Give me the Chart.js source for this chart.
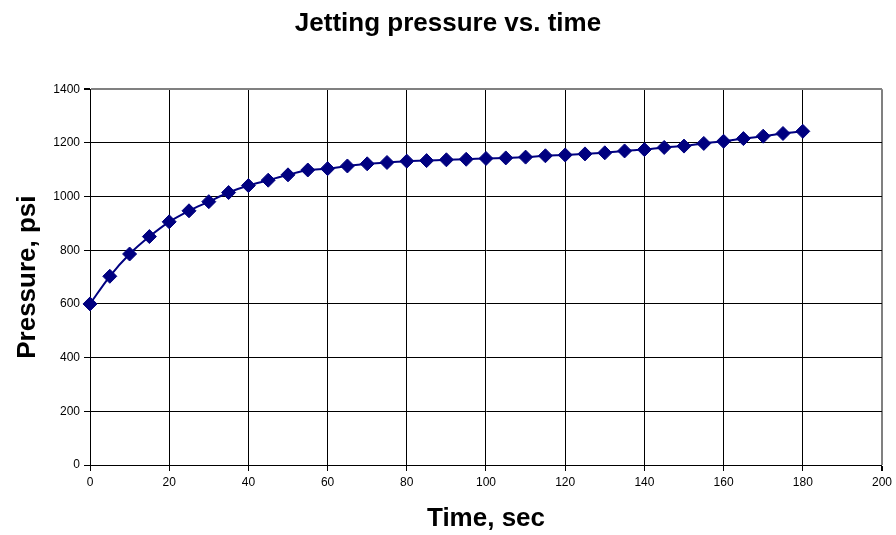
<!DOCTYPE html>
<html>
<head>
<meta charset="utf-8">
<script src="https://cdn.jsdelivr.net/npm/chart.js@4/dist/chart.umd.min.js"></script>
<style>
  html, body { margin: 0; padding: 0; background: #fff; }
  #wrap { width: 896px; height: 535px; }
</style>
</head>
<body>
<div id="wrap"><canvas id="chart" width="896" height="535"></canvas></div>
<script>
// time, sec
var times = [0, 5, 10, 15, 20, 25, 30, 35, 40, 45, 50, 55, 60, 65, 70, 75, 80, 85, 90,
  95, 100, 105, 110, 115, 120, 125, 130, 135, 140, 145, 150, 155, 160, 165, 170, 175, 180];
// pressure, psi
var pressures = [600, 703, 786, 851, 906, 947, 981, 1015, 1041, 1061, 1081, 1099, 1104, 1114, 1122, 1127, 1132, 1134, 1137,
  1139, 1142, 1144, 1147, 1152, 1155, 1159, 1163, 1170, 1175, 1183, 1188, 1198, 1206, 1216, 1225, 1235, 1243];

var xTicks = [0, 20, 40, 60, 80, 100, 120, 140, 160, 180, 200];
var yTicks = [0, 200, 400, 600, 800, 1000, 1200, 1400];

var NAVY = '#000080';
var FONT = "'Liberation Sans', Arial, sans-serif";

var points = times.map(function(t, i){ return { x: t, y: pressures[i] }; });

var ctx = document.getElementById('chart').getContext('2d');

new Chart(ctx, {
  type: 'line',
  data: {
    datasets: [{
      label: 'Pressure',
      data: points,
      borderColor: NAVY,
      backgroundColor: NAVY,
      borderWidth: 2,
      pointStyle: 'rectRot',
      pointRadius: 7,
      pointBorderWidth: 1,
      pointBorderColor: NAVY,
      pointBackgroundColor: NAVY,
      cubicInterpolationMode: 'monotone',
      clip: false,
      fill: false
    }]
  },
  options: {
    responsive: false,
    animation: false,
    layout: {
      padding: 0
    },
    plugins: {
      legend: { display: false },
      tooltip: { enabled: false },
      title: {
        display: true,
        text: 'Jetting pressure vs. time',
        color: '#000',
        font: { family: FONT, size: 26, weight: 'bold' },
        padding: { top: 8, bottom: 50 }
      }
    },
    scales: {
      x: {
        type: 'linear',
        min: 0,
        max: 200,
        afterBuildTicks: function(scale){
          scale.ticks = xTicks.map(function(v){ return { value: v }; });
        },
        afterFit: function(scale){ scale.height = 70; },
        ticks: {
          color: '#000',
          font: { family: FONT, size: 12 },
          padding: 4,
          maxRotation: 0
        },
        grid: {
          color: function(c){ return c.tick && c.tick.value === 200 ? '#808080' : '#000'; },
          lineWidth: function(c){ return c.tick && c.tick.value === 200 ? 2 : 1; },
          tickLength: 6,
          tickColor: '#000'
        },
        border: { color: '#000', width: 1 },
        title: {
          display: true,
          text: 'Time, sec',
          color: '#000',
          font: { family: FONT, size: 26, weight: 'bold' },
          padding: { top: 0, bottom: 1 }
        }
      },
      y: {
        min: 0,
        max: 1400,
        afterBuildTicks: function(scale){
          scale.ticks = yTicks.map(function(v){ return { value: v }; });
        },
        afterFit: function(scale){ scale.width = 90; },
        ticks: {
          color: '#000',
          font: { family: FONT, size: 12 },
          padding: 4,
          callback: function(v){ return String(v); }
        },
        grid: {
          color: function(c){ return c.tick && c.tick.value === 1400 ? '#808080' : '#000'; },
          lineWidth: function(c){ return c.tick && c.tick.value === 1400 ? 2 : 1; },
          tickLength: 6,
          tickColor: '#000'
        },
        border: { color: '#000', width: 1 },
        title: {
          display: true,
          text: 'Pressure, psi',
          color: '#000',
          font: { family: FONT, size: 26, weight: 'bold' },
          padding: { top: 12, bottom: 0 }
        }
      },
      // empty strip on the right so the plot ends where the reference does
      yRight: {
        position: 'right',
        min: 0,
        max: 1400,
        afterFit: function(scale){ scale.width = 13; },
        ticks: { display: false },
        grid: { display: false },
        border: { display: false }
      }
    }
  }
});
</script>
</body>
</html>
